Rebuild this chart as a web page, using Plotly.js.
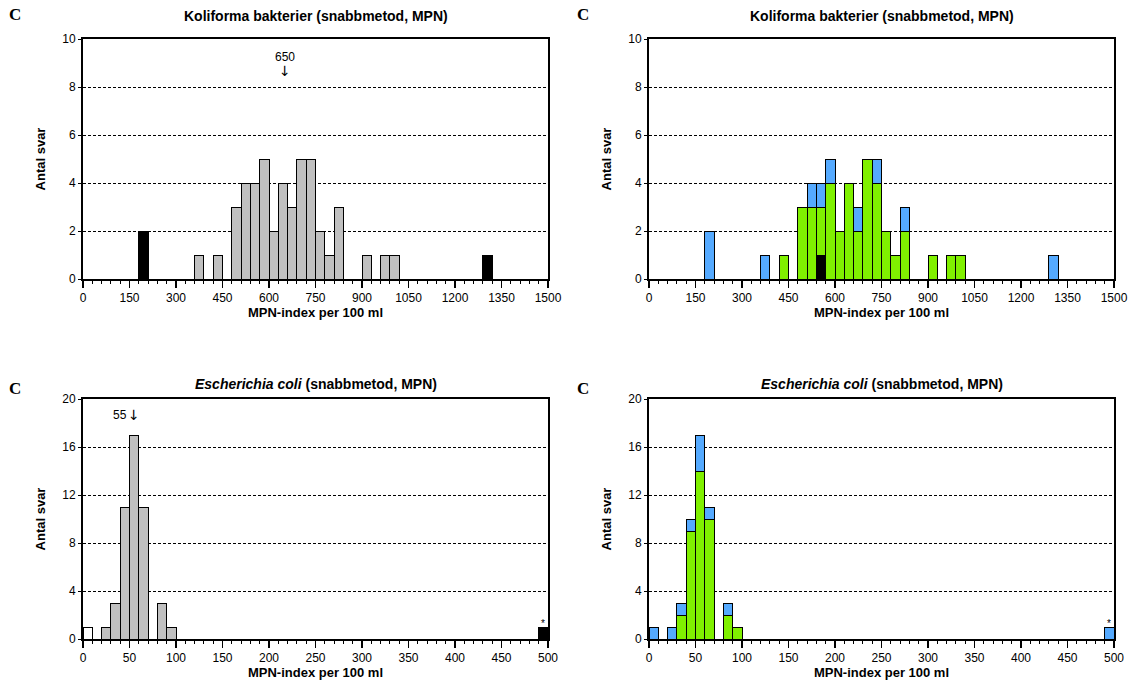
<!DOCTYPE html>
<html>
<head>
<meta charset="utf-8">
<script src="https://cdn.plot.ly/plotly-3.0.1.min.js"></script>
<style>html,body{margin:0;padding:0;background:#fff;}#chart{width:1134px;height:682px;}</style>
</head>
<body>
<div id="chart"></div>
<script>
// ---------- DATA ----------
// Koliforma bakterier: bin width 30, values are bin left edges
const kolBinWidth = 30;
const kolGrayBins   = [360, 420, 480, 510, 540, 570, 600, 630, 660, 690, 720, 750, 780, 810, 900, 960, 990];
const kolGrayCounts = [1,   1,   3,   4,   4,   5,   2,   4,   3,   5,   5,   2,   1,   3,   1,   1,   1];
const kolBlackBins   = [180, 1290];
const kolBlackCounts = [2,   1];

// right panel (stacked: black, green, blue)
const kolRBlackBins   = [540];
const kolRBlackCounts = [1];
const kolRGreenBins   = [420, 480, 510, 540, 570, 600, 630, 660, 690, 720, 750, 780, 810, 900, 960, 990];
const kolRGreenCounts = [1,   3,   3,   2,   4,   2,   4,   2,   5,   4,   2,   1,   2,   1,   1,   1];
const kolRBlueBins    = [180, 360, 510, 540, 570, 660, 720, 810, 1290];
const kolRBlueCounts  = [2,   1,   1,   1,   1,   1,   1,   1,   1];

// Escherichia coli: bin width 10
const ecoBinWidth = 10;
const ecoWhiteBins   = [0];
const ecoWhiteCounts = [1];
const ecoGrayBins    = [20, 30, 40, 50, 60, 80, 90];
const ecoGrayCounts  = [1,  3,  11, 17, 11, 3,  1];
const ecoBlackBins   = [490];
const ecoBlackCounts = [1];

const ecoRGreenBins   = [30, 40, 50, 60, 80, 90];
const ecoRGreenCounts = [2,  9,  14, 10, 2,  1];
const ecoRBlueBins    = [0, 20, 30, 40, 50, 60, 80, 490];
const ecoRBlueCounts  = [1, 1,  1,  1,  3,  1,  1,  1];

const kolTicks = [0, 150, 300, 450, 600, 750, 900, 1050, 1200, 1350, 1500];
const ecoTicks = [0, 50, 100, 150, 200, 250, 300, 350, 400, 450, 500];

const kolMedian = 650;
const ecoMedian = 55;

const titleKol = "Koliforma bakterier (snabbmetod, MPN)";
const titleEco = "<i>Escherichia coli</i> (snabbmetod, MPN)";
const xTitle = "MPN-index per 100 ml";
const yTitle = "Antal svar";

// ---------- STYLE ----------
const GRAY = "#c0c0c0", BLACK = "#000000", GREEN = "#80f000", BLUE = "#55aaff", WHITE = "#ffffff";
const FONT = "Liberation Sans, Arial, sans-serif";

function bars(bins, counts, w, color, xa, ya, name) {
  return {
    type: "bar", name: name,
    x: bins.map(b => b + w / 2), y: counts, width: w,
    marker: {color: color, line: {color: "#000", width: 1}},
    xaxis: xa, yaxis: ya, showlegend: false, hoverinfo: "x+y"
  };
}

const traces = [
  bars(kolGrayBins, kolGrayCounts, kolBinWidth, GRAY, "x", "y", "gray"),
  bars(kolBlackBins, kolBlackCounts, kolBinWidth, BLACK, "x", "y", "black"),
  bars(kolRBlackBins, kolRBlackCounts, kolBinWidth, BLACK, "x2", "y2", "black"),
  bars(kolRGreenBins, kolRGreenCounts, kolBinWidth, GREEN, "x2", "y2", "green"),
  bars(kolRBlueBins, kolRBlueCounts, kolBinWidth, BLUE, "x2", "y2", "blue"),
  bars(ecoWhiteBins, ecoWhiteCounts, ecoBinWidth, WHITE, "x3", "y3", "white"),
  bars(ecoGrayBins, ecoGrayCounts, ecoBinWidth, GRAY, "x3", "y3", "gray"),
  bars(ecoBlackBins, ecoBlackCounts, ecoBinWidth, BLACK, "x3", "y3", "black"),
  bars(ecoRGreenBins, ecoRGreenCounts, ecoBinWidth, GREEN, "x4", "y4", "green"),
  bars(ecoRBlueBins, ecoRBlueCounts, ecoBinWidth, BLUE, "x4", "y4", "blue")
];

const W = 1134, H = 682;
const xdomL = [83 / W, 548 / W], xdomR = [649 / W, 1114 / W];
const ydomT = [1 - 279 / H, 1 - 39 / H], ydomB = [1 - 639 / H, 1 - 399 / H];

function xaxis(dom, ticks, minor, yanchor) {
  return {
    domain: dom, anchor: yanchor, range: [0, ticks[ticks.length - 1]],
    tickmode: "array", tickvals: ticks, ticktext: ticks.map(String),
    ticks: "outside", ticklen: 7, tickwidth: 1.5, tickcolor: "#000",
    minor: {dtick: minor, tick0: 0, ticks: "outside", ticklen: 3, tickwidth: 1, tickcolor: "#000", showgrid: false},
    showline: true, linecolor: "#000", linewidth: 2, mirror: true,
    showgrid: false, zeroline: false, fixedrange: true,
    tickfont: {family: FONT, size: 12, color: "#000"},
    title: {text: "<b>" + xTitle + "</b>", font: {family: FONT, size: 13, color: "#000"}, standoff: 1}
  };
}
function yaxis(dom, max, dtick, xanchor) {
  return {
    domain: dom, anchor: xanchor, range: [0, max], dtick: dtick, tick0: 0,
    ticks: "outside", ticklen: 3, tickcolor: "#000",
    showline: true, linecolor: "#000", linewidth: 2, mirror: true,
    showgrid: true, gridcolor: "#000", gridwidth: 1, griddash: "3px,2px",
    zeroline: false, fixedrange: true,
    tickfont: {family: FONT, size: 12, color: "#000"},
    title: {text: "<b>" + yTitle + "</b>", font: {family: FONT, size: 13, color: "#000"}, standoff: 14}
  };
}

function ann(text, x, y, opts) {
  return Object.assign({text: text, x: x, y: y, xref: "paper", yref: "paper", showarrow: false,
    xanchor: "center", yanchor: "middle", font: {family: FONT, size: 12, color: "#000"}}, opts || {});
}
const cFont = {family: "Liberation Serif, Times New Roman, serif", size: 17, color: "#000"};
const tFont = {family: FONT, size: 14, color: "#000"};

const annotations = [
  ann("<b>C</b>", 15 / W, 1 - 15 / H, {font: cFont}),
  ann("<b>C</b>", 583 / W, 1 - 15 / H, {font: cFont}),
  ann("<b>C</b>", 15 / W, 1 - 388 / H, {font: cFont}),
  ann("<b>C</b>", 583 / W, 1 - 388 / H, {font: cFont}),
  ann("<b>" + titleKol + "</b>", (xdomL[0] + xdomL[1]) / 2, 1 - 16 / H, {font: tFont}),
  ann("<b>" + titleKol + "</b>", (xdomR[0] + xdomR[1]) / 2, 1 - 16 / H, {font: tFont}),
  ann("<b>" + titleEco + "</b>", (xdomL[0] + xdomL[1]) / 2, 1 - 384 / H, {font: tFont}),
  ann("<b>" + titleEco + "</b>", (xdomR[0] + xdomR[1]) / 2, 1 - 384 / H, {font: tFont}),
  // median markers
  {text: String(kolMedian), x: kolMedian, y: 9.25, xref: "x", yref: "y", showarrow: false,
   xanchor: "center", yanchor: "middle", font: {family: FONT, size: 12, color: "#000"}},
  {text: "↓", x: kolMedian, y: 8.67, xref: "x", yref: "y", showarrow: false,
   xanchor: "center", yanchor: "middle", font: {family: "DejaVu Sans, sans-serif", size: 14, color: "#000"}},
  {text: String(ecoMedian), x: ecoMedian - 6, y: 18.7, xref: "x3", yref: "y3", showarrow: false,
   xanchor: "right", yanchor: "middle", font: {family: FONT, size: 12, color: "#000"}},
  {text: "↓", x: ecoMedian, y: 18.7, xref: "x3", yref: "y3", showarrow: false,
   xanchor: "center", yanchor: "middle", font: {family: "DejaVu Sans, sans-serif", size: 14, color: "#000"}},
  // asterisks over outlier bar
  {text: "*", x: ecoBlackBins[0] + ecoBinWidth / 2, y: ecoBlackCounts[0], xref: "x3", yref: "y3", showarrow: false,
   xanchor: "center", yanchor: "bottom", yshift: -4, font: {family: FONT, size: 10, color: "#000"}},
  {text: "*", x: ecoRBlueBins[ecoRBlueBins.length - 1] + ecoBinWidth / 2, y: ecoRBlueCounts[ecoRBlueCounts.length - 1], xref: "x4", yref: "y4", showarrow: false,
   xanchor: "center", yanchor: "bottom", yshift: -4, font: {family: FONT, size: 10, color: "#000"}}
];

const layout = {
  width: W, height: H,
  margin: {l: 0, r: 0, t: 0, b: 0},
  paper_bgcolor: "#fff", plot_bgcolor: "#fff",
  barmode: "stack",
  showlegend: false,
  font: {family: FONT, size: 12, color: "#000"},
  xaxis: xaxis(xdomL, kolTicks, 30, "y"),
  yaxis: yaxis(ydomT, 10, 2, "x"),
  xaxis2: xaxis(xdomR, kolTicks, 30, "y2"),
  yaxis2: yaxis(ydomT, 10, 2, "x2"),
  xaxis3: xaxis(xdomL, ecoTicks, 10, "y3"),
  yaxis3: yaxis(ydomB, 20, 4, "x3"),
  xaxis4: xaxis(xdomR, ecoTicks, 10, "y4"),
  yaxis4: yaxis(ydomB, 20, 4, "x4"),
  annotations: annotations
};

Plotly.newPlot("chart", traces, layout, {displayModeBar: false, staticPlot: true});
</script>
</body>
</html>
